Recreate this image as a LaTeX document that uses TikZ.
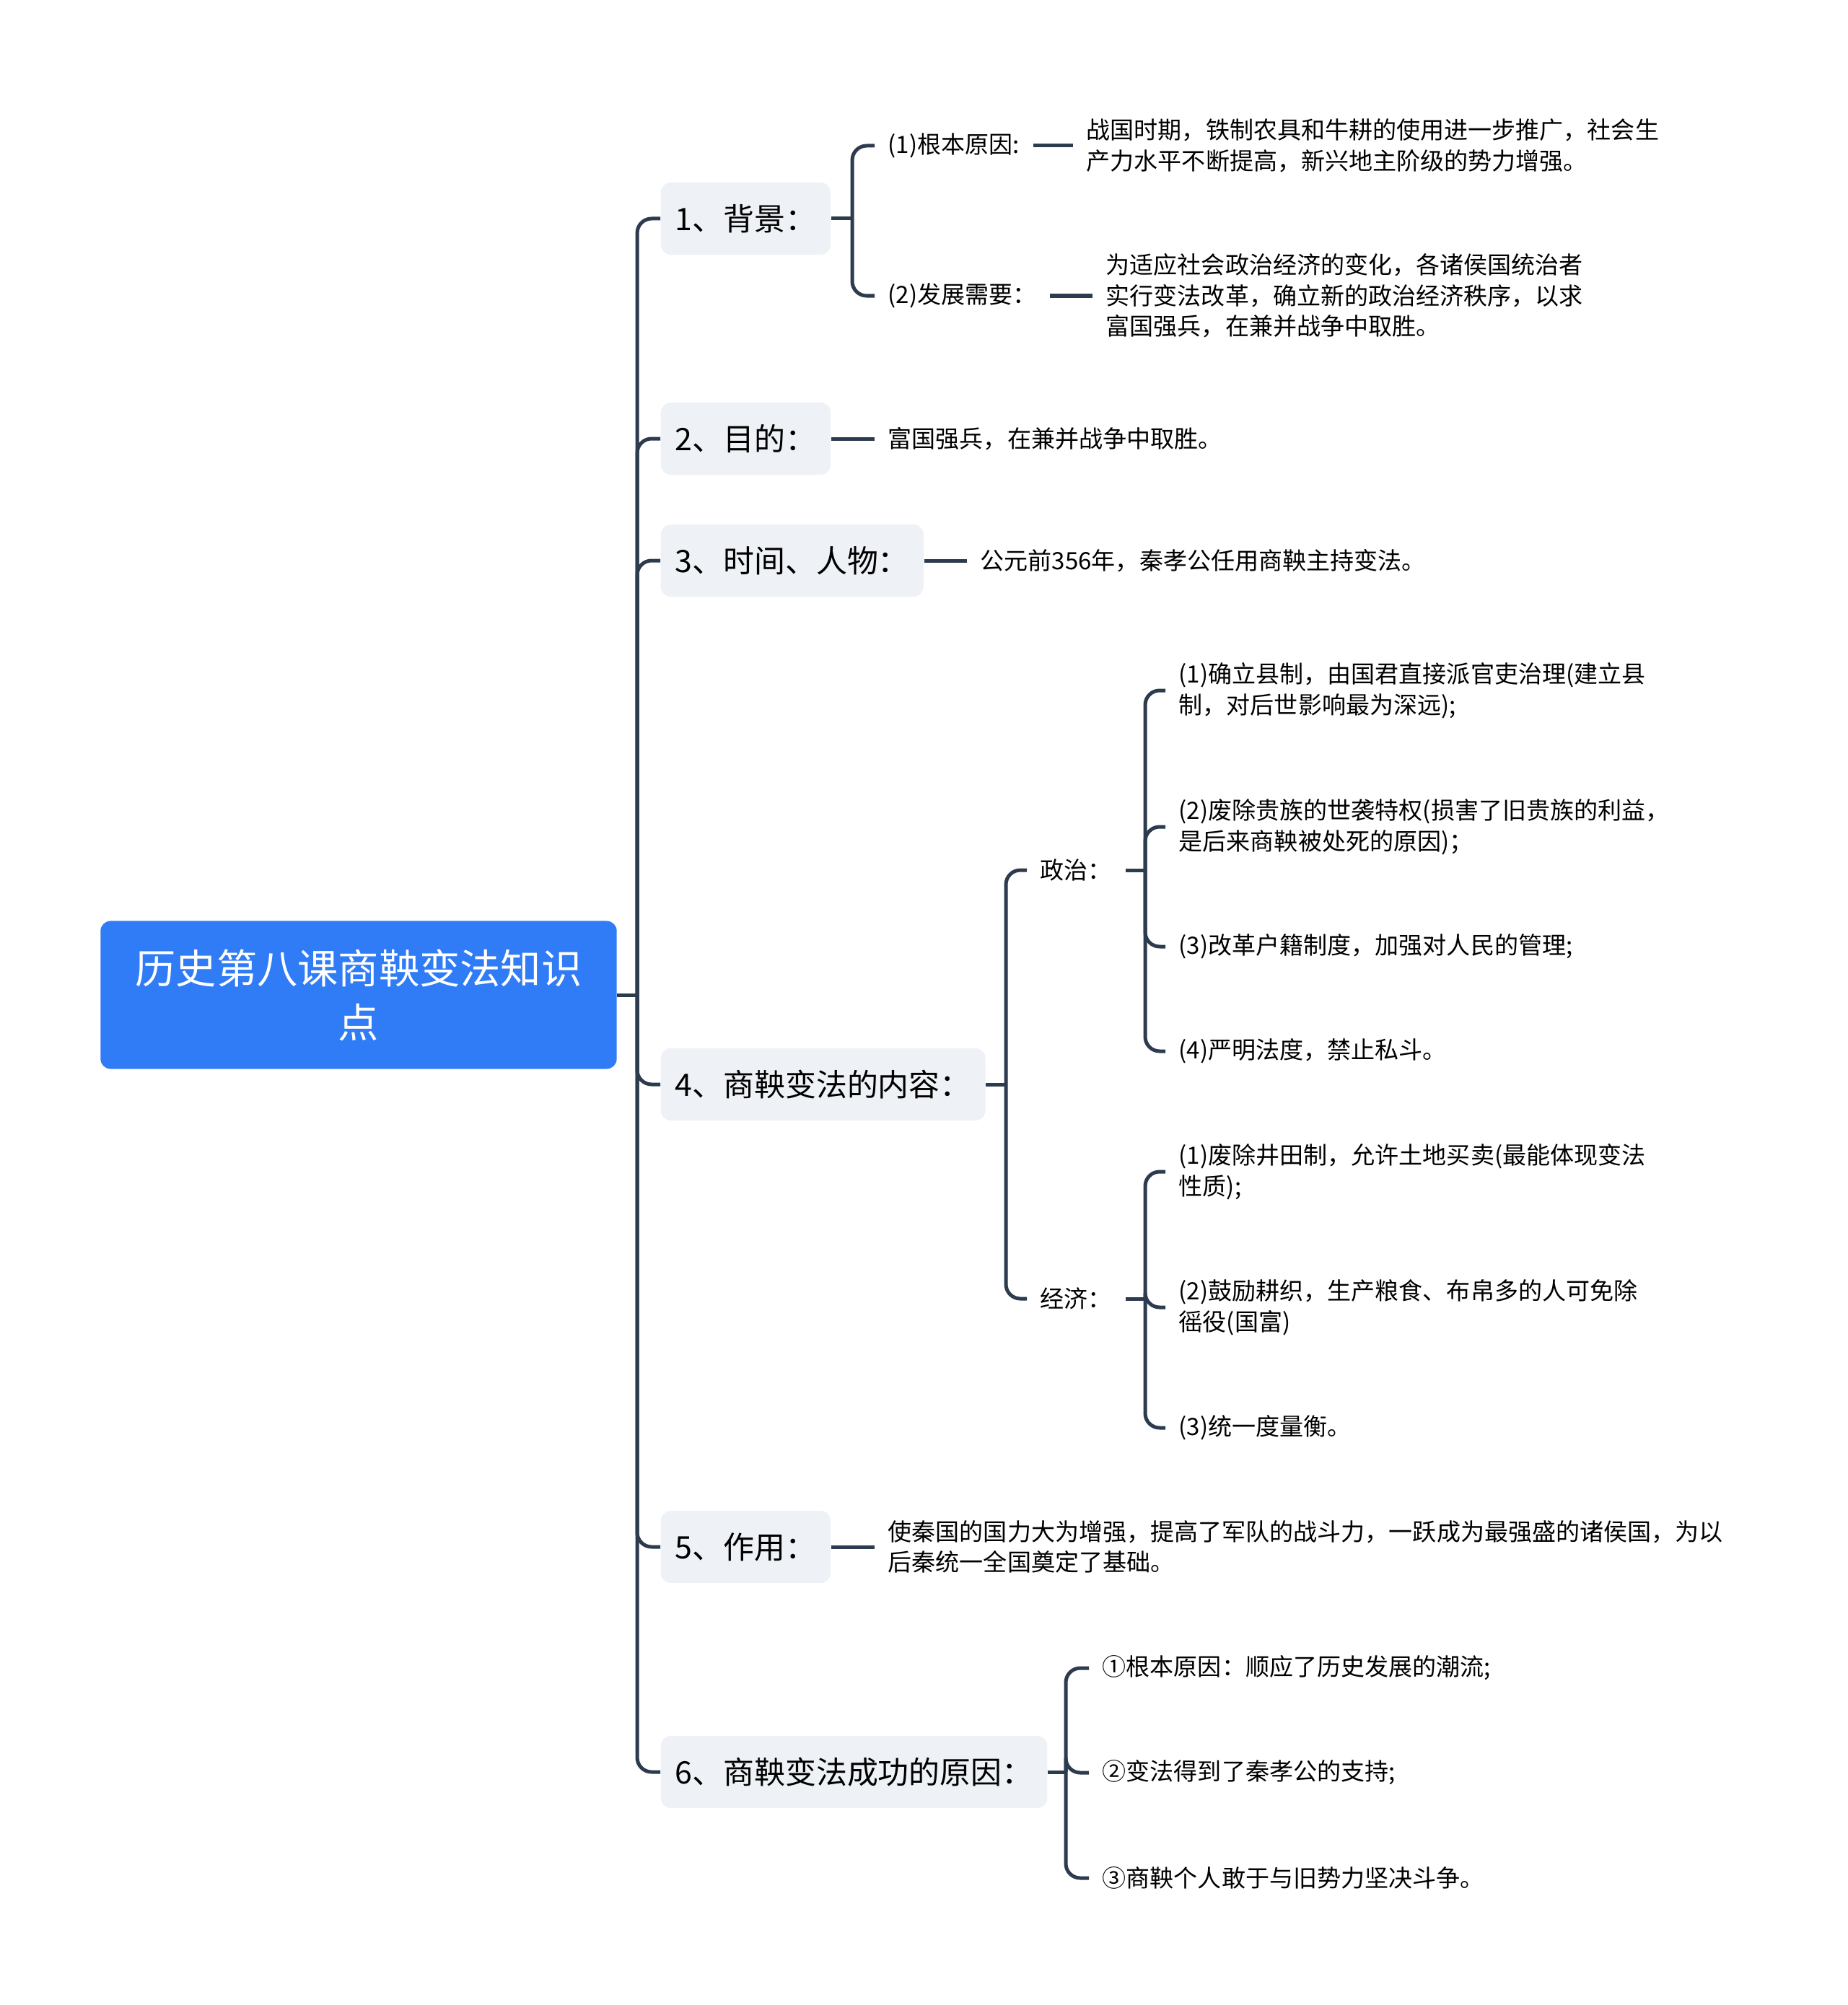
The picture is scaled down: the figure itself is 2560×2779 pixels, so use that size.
\documentclass[tikz,border=0pt]{standalone}
\usepackage{fontspec}
\setmainfont{Noto Sans CJK SC}
\usepackage{tikz}
\usetikzlibrary{positioning}
\definecolor{linkcol}{RGB}{44,59,78}
\definecolor{topicfill}{RGB}{238,241,245}
\definecolor{rootfill}{RGB}{47,124,246}

\begin{document}
\begin{tikzpicture}[
    x=0.01cm, y=-0.01cm,
    mainbox/.style={
      fill=rootfill,
      rounded corners=0.14cm,
      text=white,
      align=center,
      minimum width=7.15cm,
      minimum height=2.05cm,
      font=\fontsize{16pt}{21.3pt}\selectfont
    },
    topicbox/.style={
      fill=topicfill,
      rounded corners=0.14cm,
      anchor=west,
      inner xsep=0.2cm,
      minimum height=1cm,
      font=\fontsize{12.2pt}{15pt}\selectfont
    },
    leafnode/.style={
      anchor=west,
      align=left,
      inner xsep=0.18cm,
      inner ysep=0pt,
      font=\fontsize{9.4pt}{12.1pt}\selectfont
    },
    link/.style={draw=linkcol, line width=0.05cm, rounded corners=0.2cm}
  ]
    \useasboundingbox (0,0) rectangle (2560,2779);

    % centre
    \node[mainbox] (root) at (497,1379) {历史第八课商鞅变法知识\\点};

    % main topics
    \node[topicbox] (b1) at (915,303) {1、背景：};
    \node[topicbox] (b2) at (915,608) {2、目的：};
    \node[topicbox] (b3) at (915,777) {3、时间、人物：};
    \node[topicbox] (b4) at (915,1503) {4、商鞅变法的内容：};
    \node[topicbox] (b5) at (915,2144) {5、作用：};
    \node[topicbox] (b6) at (915,2456) {6、商鞅变法成功的原因：};

    % 1
    \node[leafnode] (l11) at (1212,202) {(1)根本原因:};
    \node[leafnode] (l12) at (1212,410) {(2)发展需要：};
    \node[leafnode] (t11) at (1487,202) {战国时期，铁制农具和牛耕的使用进一步推广，社会生\\产力水平不断提高，新兴地主阶级的势力增强。};
    \node[leafnode] (t12) at (1514,410) {为适应社会政治经济的变化，各诸侯国统治者\\实行变法改革，确立新的政治经济秩序，以求\\富国强兵，在兼并战争中取胜。};

    % 2, 3
    \node[leafnode] (t2) at (1212,608) {富国强兵，在兼并战争中取胜。};
    \node[leafnode] (t3) at (1340,777) {公元前356年，秦孝公任用商鞅主持变法。};

    % 4
    \node[leafnode] (pol) at (1423,1206) {政治：};
    \node[leafnode] (eco) at (1423,1800) {经济：};
    \node[leafnode] (p1) at (1615,957) {(1)确立县制，由国君直接派官吏治理(建立县\\制，对后世影响最为深远);};
    \node[leafnode] (p2) at (1615,1146) {(2)废除贵族的世袭特权(损害了旧贵族的利益，\\是后来商鞅被处死的原因)；};
    \node[leafnode] (p3) at (1615,1312) {(3)改革户籍制度，加强对人民的管理;};
    \node[leafnode] (p4) at (1615,1457) {(4)严明法度，禁止私斗。};
    \node[leafnode] (e1) at (1615,1624) {(1)废除井田制，允许土地买卖(最能体现变法\\性质);};
    \node[leafnode] (e2) at (1615,1812) {(2)鼓励耕织，生产粮食、布帛多的人可免除\\徭役(国富)};
    \node[leafnode] (e3) at (1615,1979) {(3)统一度量衡。};

    % 5
    \node[leafnode] (t5) at (1212,2144) {使秦国的国力大为增强，提高了军队的战斗力，一跃成为最强盛的诸侯国，为以\\后秦统一全国奠定了基础。};

    % 6
    \node[leafnode] (r1) at (1509,2312) {①根本原因：顺应了历史发展的潮流;};
    \node[leafnode] (r2) at (1509,2457) {②变法得到了秦孝公的支持;};
    \node[leafnode] (r3) at (1509,2603) {③商鞅个人敢于与旧势力坚决斗争。};

    % junctions
    \coordinate (trunk) at (883,1379);
    \coordinate (j1) at (1181,303);
    \coordinate (j4) at (1394,1503);
    \coordinate (jp) at (1587,1206);
    \coordinate (je) at (1587,1800);
    \coordinate (j6) at (1477,2456);

    % links
    \draw[link] (root.east) -- (trunk);
    \draw[link] (trunk) |- (b1.west);
    \draw[link] (trunk) |- (b2.west);
    \draw[link] (trunk) |- (b3.west);
    \draw[link] (trunk) |- (b4.west);
    \draw[link] (trunk) |- (b5.west);
    \draw[link] (trunk) |- (b6.west);

    \draw[link] (b1.east) -- (j1);
    \draw[link] (j1) |- (l11.west);
    \draw[link] (j1) |- (l12.west);
    \draw[link] (l11.east) -- (t11.west);
    \draw[link] (l12.east) -- (t12.west);

    \draw[link] (b2.east) -- (t2.west);
    \draw[link] (b3.east) -- (t3.west);

    \draw[link] (b4.east) -- (j4);
    \draw[link] (j4) |- (pol.west);
    \draw[link] (j4) |- (eco.west);
    \draw[link] (pol.east) -- (jp);
    \draw[link] (jp) |- (p1.west);
    \draw[link] (jp) |- (p2.west);
    \draw[link] (jp) |- (p3.west);
    \draw[link] (jp) |- (p4.west);
    \draw[link] (eco.east) -- (je);
    \draw[link] (je) |- (e1.west);
    \draw[link] (je) |- (e2.west);
    \draw[link] (je) |- (e3.west);

    \draw[link] (b5.east) -- (t5.west);

    \draw[link] (b6.east) -- (j6);
    \draw[link] (j6) |- (r1.west);
    \draw[link] (j6) |- (r2.west);
    \draw[link] (j6) |- (r3.west);
  \end{tikzpicture}
\end{document}
